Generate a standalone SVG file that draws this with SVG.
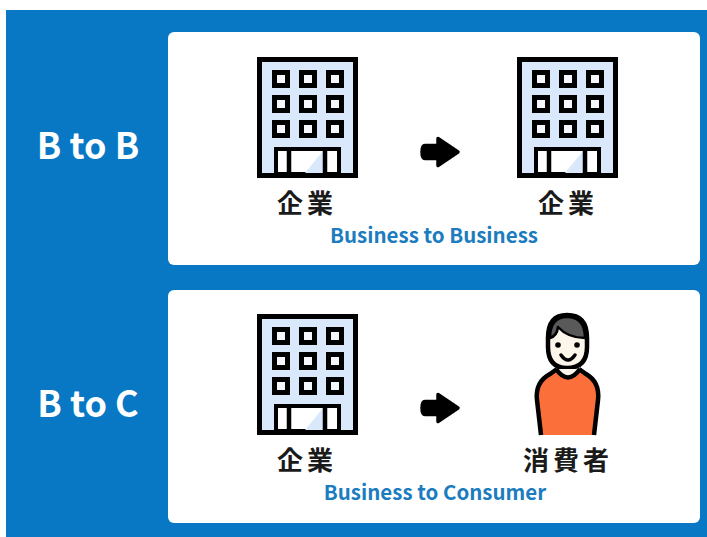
<svg xmlns="http://www.w3.org/2000/svg" width="707" height="537" viewBox="0 0 707 537">
<style>
.card{fill:#fff}
.side{font:700 36px "Noto Sans CJK JP","Noto Sans",sans-serif;fill:#fff;text-anchor:middle}
.ja{font:700 26px "Noto Sans CJK JP",sans-serif;fill:#1a1a1a;text-anchor:middle;letter-spacing:4px}
.en{font:700 20.5px "Noto Sans CJK JP","Noto Sans",sans-serif;fill:#1b7cc0;text-anchor:middle}
.k{stroke:#000;fill:none;stroke-width:4.5}
.win{fill:#f4f7fb;stroke:#000;stroke-width:5}
</style>
<defs>
<g id="building">
<rect x="2.500" y="2.500" width="96" height="116" fill="#d9e8fa" stroke="#000" stroke-width="5"/>
<g class="win">
<rect x="17.500" y="15.500" width="13" height="13"/><rect x="44.500" y="15.500" width="13" height="13"/><rect x="71.500" y="15.500" width="13" height="13"/>
<rect x="17.500" y="40.500" width="13" height="13"/><rect x="44.500" y="40.500" width="13" height="13"/><rect x="71.500" y="40.500" width="13" height="13"/>
<rect x="17.500" y="65.500" width="13" height="13"/><rect x="44.500" y="65.500" width="13" height="13"/><rect x="71.500" y="65.500" width="13" height="13"/>
</g>
<rect x="19" y="92" width="63" height="25" fill="#fff" stroke="#000" stroke-width="4"/>
<path d="M48 116L66 94V116Z" fill="#d9e8fa"/>
<path d="M32 92V117M68 92V117" class="k" stroke-width="3"/>
</g>
<path id="arrow" d="M5 -6.500H18V-13.500L38 0L18 13.500V6.500H5Q2 6.500 2 0Q2 -6.500 5 -6.500Z" fill="#000" stroke="#000" stroke-width="3.500" stroke-linejoin="round"/>
</defs>
<rect x="6" y="10" width="701" height="527" fill="#0878c4"/>
<g id="card-b2b"><rect class="card" x="168" y="32" width="532" height="233" rx="6"/></g>
<g id="card-b2c"><rect class="card" x="168" y="290" width="532" height="233" rx="6"/></g>
<g id="label-b2b"><text class="side" x="88" y="159">B to B</text></g>
<g id="label-b2c"><text class="side" x="88" y="417">B to C</text></g>
<g id="b2b-company-1"><use href="#building" x="257" y="57"/><text class="ja" x="307" y="213">企業</text></g>
<g id="b2b-company-2"><use href="#building" x="517" y="57"/><text class="ja" x="568" y="213">企業</text></g>
<g id="b2c-company"><use href="#building" x="257" y="314"/><text class="ja" x="307" y="470">企業</text></g>
<g id="b2c-consumer">
<path d="M541 435L537 400Q535 382 550 374L557 369H579L586 374Q600 382 598 400L594 435Z" fill="#fb6f3a"/>
<path d="M541 435L537 400Q535 382 550 374L557 369M579 369L586 374Q600 382 598 400L594 435" class="k"/>
<path d="M548 338V347Q548 368 567 368Q587 368 587 347V338Q587 315 567 315Q548 315 548 338Z" fill="#fcf6ea" stroke="#000" stroke-width="4.500"/>
<path d="M550 338Q557 336 558 327Q568 338 585 338Q585 317 567 317Q550 317 550 338Z" fill="#595959" stroke="#000" stroke-width="2.500" stroke-linejoin="round"/>
<circle cx="558" cy="345" r="2.800"/><circle cx="577" cy="345" r="2.800"/>
<path d="M561 355Q568 365 575 355" fill="none" stroke="#000" stroke-width="3.500" stroke-linecap="round"/>
<path d="M556 369Q568 386 580 369" fill="#fcf6ea" stroke="#000" stroke-width="4.500"/>
<text class="ja" x="568" y="470">消費者</text>
</g>
<g id="connectors"><use href="#arrow" x="420" y="152"/><use href="#arrow" x="420" y="408"/></g>
<g id="captions"><text class="en" x="434" y="243">Business to Business</text><text class="en" x="435" y="500">Business to Consumer</text></g>
</svg>
